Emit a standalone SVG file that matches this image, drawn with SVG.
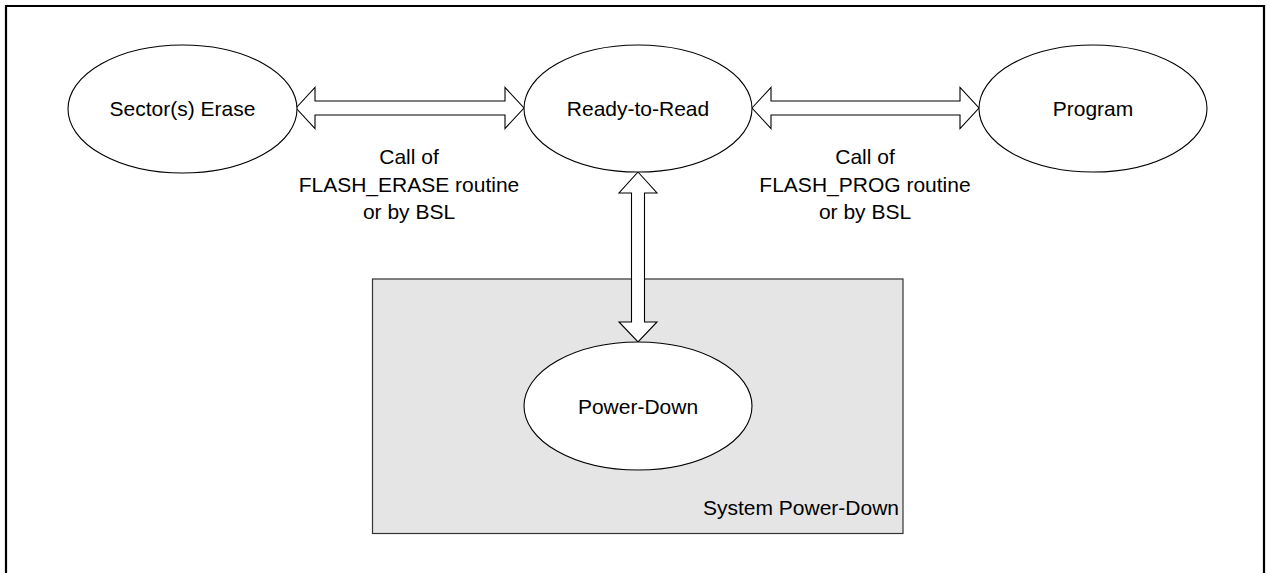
<svg xmlns="http://www.w3.org/2000/svg" width="1266" height="573" viewBox="0 0 1266 573">
<style>
.node{fill:#fff;stroke:#000;stroke-width:1.1}
.arrow{fill:#fff;stroke:#000;stroke-width:1.1;stroke-linejoin:miter}
text{font-family:"Liberation Sans",Arial,sans-serif;font-size:21px;fill:#000}
.c{text-anchor:middle}
</style>
<rect x="0" y="0" width="1266" height="573" fill="#fff"/>
<g id="frame">
<path d="M6,580 V6 H1264 V580" fill="none" stroke="#000" stroke-width="2.2"/>
</g>
<g id="system-power-down">
<rect x="372.5" y="279" width="530.5" height="254.5" fill="#e5e5e5" stroke="#333" stroke-width="1.2"/>
<text x="899" y="515" text-anchor="end">System Power-Down</text>
</g>
<g id="connectors">
<polygon class="arrow" points="296,108 315,87.5 315,101 505,101 505,87.5 524,108 505,128.5 505,115 315,115 315,128.5"/>
<polygon class="arrow" points="752,108 771,87.5 771,101 960,101 960,87.5 979,108 960,128.5 960,115 771,115 771,128.5"/>
<polygon class="arrow" points="638,172 657,193 644.5,193 644.5,322 657,322 638,342 619,322 631.5,322 631.5,193 619,193"/>
</g>
<g id="label-erase">
<text class="c" x="409" y="164">Call of</text>
<text class="c" x="409" y="191.5">FLASH_ERASE routine</text>
<text class="c" x="409" y="219">or by BSL</text>
</g>
<g id="label-prog">
<text class="c" x="865" y="164">Call of</text>
<text class="c" x="865" y="191.5">FLASH_PROG routine</text>
<text class="c" x="865" y="219">or by BSL</text>
</g>
<g id="sector-erase">
<ellipse class="node" cx="182.5" cy="109" rx="114.5" ry="64"/>
<text class="c" x="182.5" y="116">Sector(s) Erase</text>
</g>
<g id="ready-to-read">
<ellipse class="node" cx="638" cy="108.5" rx="114" ry="63.5"/>
<text class="c" x="638" y="116">Ready-to-Read</text>
</g>
<g id="program">
<ellipse class="node" cx="1093" cy="108.5" rx="114" ry="63.5"/>
<text class="c" x="1093" y="116">Program</text>
</g>
<g id="power-down">
<ellipse class="node" cx="638" cy="406" rx="114" ry="64"/>
<text class="c" x="638" y="413.5">Power-Down</text>
</g>
</svg>
